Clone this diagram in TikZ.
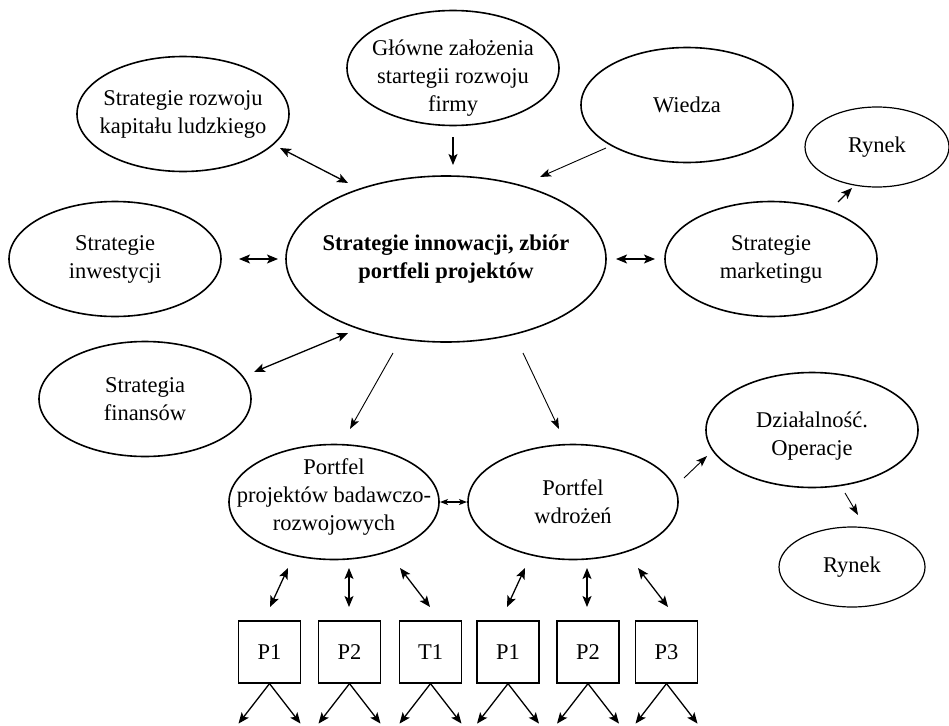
\documentclass[tikz,border=0pt]{standalone}
\usepackage{fontspec}
\setmainfont{Liberation Serif}
\usetikzlibrary{shapes.geometric,arrows.meta}
\begin{document}
\begin{tikzpicture}[x=1pt,y=-1pt,
  ell/.style={draw, ellipse, line width=1.6pt, minimum width=212pt, minimum height=115pt, inner sep=0pt},
  txt/.style={align=center, font=\fontsize{22.5}{28}\selectfont},
  btxt/.style={align=center, font=\fontsize{22.5}{28}\selectfont\bfseries},
  boxnode/.style={draw, line width=1.2pt, minimum width=62pt, minimum height=62pt, inner sep=0pt, font=\fontsize{22.5}{28}\selectfont},
  arr/.style={line width=1.3pt, -{Stealth[length=11pt,width=9pt,inset=2.5pt]}},
  darr/.style={line width=1.3pt, {Stealth[length=11pt,width=9pt,inset=2.5pt]}-{Stealth[length=11pt,width=9pt,inset=2.5pt]}},
  sarr/.style={line width=0.9pt, -{Stealth[length=11pt,width=8pt,inset=2.5pt]}},
  smalld/.style={line width=1.1pt, {Stealth[length=8pt,width=6pt,inset=2pt]}-{Stealth[length=8pt,width=6pt,inset=2pt]}}
]
\useasboundingbox (0,0) rectangle (949,725);

% ellipses
\node[ell, label={[txt]center:{Strategie rozwoju\\kapitału ludzkiego}}] (kap) at (183,114) {};
\node[ell, label={[txt,yshift=-10pt]center:{Główne założenia\\startegii rozwoju\\firmy}}] (glo) at (453,68) {};
\node[ell, label={[txt]center:{Wiedza}}] (wie) at (687,105) {};
\node[ell, line width=1.2pt, minimum width=144pt, minimum height=80pt, label={[txt]center:{Rynek}}] (ryn1) at (877,147) {};
\node[ell, minimum width=320pt, minimum height=166pt, label={[btxt]center:{Strategie innowacji, zbiór\\portfeli projektów}}] (cen) at (446,259) {};
\node[ell, label={[txt]center:{Strategie\\inwestycji}}] (inw) at (115,259) {};
\node[ell, label={[txt]center:{Strategie\\marketingu}}] (mar) at (771,259) {};
\node[ell, label={[txt]center:{Strategia\\finansów}}] (fin) at (145,399) {};
\node[ell, minimum width=210pt, label={[txt,yshift=5pt]center:{Portfel\\projektów badawczo-\\rozwojowych}}] (bad) at (334,502) {};
\node[ell, minimum width=210pt, label={[txt]center:{Portfel\\wdrożeń}}] (wdr) at (573,502) {};
\node[ell, label={[txt,yshift=-6pt]center:{Działalność.\\Operacje}}] (dzi) at (812,430) {};
\node[ell, line width=1.2pt, minimum width=146pt, minimum height=80pt, label={[txt]center:{Rynek}}] (ryn2) at (852,567) {};

% boxes
\node[boxnode] (p1a) at (269.5,652) {P1};
\node[boxnode] (p2a) at (349.5,652) {P2};
\node[boxnode] (t1)  at (430.5,652) {T1};
\node[boxnode] (p1b) at (508,652) {P1};
\node[boxnode] (p2b) at (588,652) {P2};
\node[boxnode] (p3b) at (666.5,652) {P3};

% connector end points (gaps next to the shapes)
\coordinate (kapE) at (280,148);  \coordinate (cenKap) at (348,183);
\coordinate (gloE) at (453,137);  \coordinate (cenGlo) at (453,165);
\coordinate (wieE) at (606,148);  \coordinate (cenWie) at (540,177);
\coordinate (marR) at (838,202);  \coordinate (rynM) at (852,188);
\coordinate (inwE) at (239,259);  \coordinate (cenInw) at (278,259);
\coordinate (cenMar) at (616,259); \coordinate (marE) at (655,259);
\coordinate (finE) at (254,372);  \coordinate (cenFin) at (348,333);
\coordinate (cenBad) at (393,353); \coordinate (badE) at (350,429);
\coordinate (cenWdr) at (523,353); \coordinate (wdrE) at (559,429);
\coordinate (badW) at (440,502);  \coordinate (wdrB) at (467,502);
\coordinate (wdrD) at (684,478);  \coordinate (dziW) at (707,456);
\coordinate (dziR) at (845,493);  \coordinate (rynD) at (858,515);
\coordinate (bad1) at (288,568);  \coordinate (p1aT) at (270,607);
\coordinate (bad2) at (349,568);  \coordinate (p2aT) at (349,607);
\coordinate (bad3) at (400,568);  \coordinate (t1T) at (430,607);
\coordinate (wdr1) at (525,568);  \coordinate (p1bT) at (507,607);
\coordinate (wdr2) at (587,568);  \coordinate (p2bT) at (587,607);
\coordinate (wdr3) at (638,568);  \coordinate (p3bT) at (668,607);

% connectors
\draw[darr] (kapE) -- (cenKap);
\draw[arr] (gloE) -- (cenGlo);
\draw[sarr] (wieE) -- (cenWie);
\draw[arr] (marR) -- (rynM);
\draw[darr] (inwE) -- (cenInw);
\draw[darr] (cenMar) -- (marE);
\draw[darr] (finE) -- (cenFin);
\draw[sarr] (cenBad) -- (badE);
\draw[sarr] (cenWdr) -- (wdrE);
\draw[smalld] (badW) -- (wdrB);
\draw[sarr] (wdrD) -- (dziW);
\draw[sarr] (dziR) -- (rynD);
\draw[darr] (bad1) -- (p1aT);
\draw[darr] (bad2) -- (p2aT);
\draw[darr] (bad3) -- (t1T);
\draw[darr] (wdr1) -- (p1bT);
\draw[darr] (wdr2) -- (p2bT);
\draw[darr] (wdr3) -- (p3bT);

% arrows leaving the boxes
\foreach \b in {p1a,p2a,t1,p1b,p2b,p3b}{
  \draw[arr] (\b.south) -- ++(-31,40);
  \draw[arr] (\b.south) -- ++(31,40);
}
\end{tikzpicture}
\end{document}
